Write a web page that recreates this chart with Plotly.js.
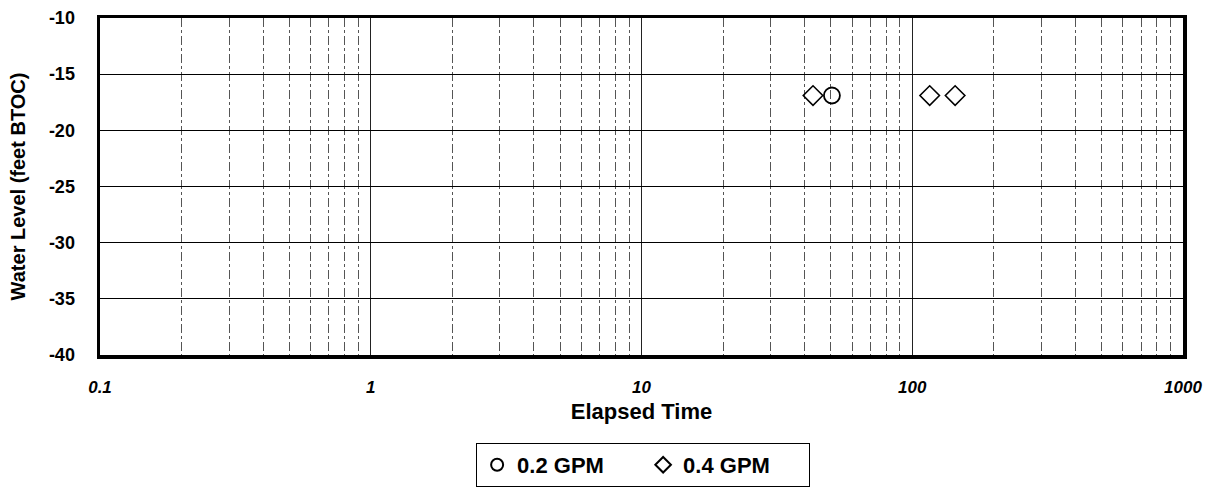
<!DOCTYPE html>
<html><head><meta charset="utf-8">
<script src="https://cdn.plot.ly/plotly-3.0.1.min.js"></script>
<style>html,body{margin:0;padding:0;background:#fff}#c{width:1211px;height:494px}</style>
</head><body><div id="c"></div>
<script>
const seriesNames = ["0.2 GPM", "0.4 GPM"];
const time02 = [50.5];
const level02 = [-16.9];
const time04 = [43, 116, 144];
const level04 = [-16.9, -16.9, -16.9];
const xTickVals = [0.1, 1, 10, 100, 1000];
const xTickText = ["0.1", "1", "10", "100", "1000"];
const yTickVals = [-10, -15, -20, -25, -30, -35, -40];
const yTickText = ["-10", "-15", "-20", "-25", "-30", "-35", "-40"];

const F = "Liberation Sans, Arial, sans-serif";
const traces = [
  {x: time02, y: level02, name: seriesNames[0], type: "scatter", mode: "markers",
   marker: {symbol: "circle-open", size: 16, color: "#000", line: {width: 1.8, color: "#000"}}},
  {x: time04, y: level04, name: seriesNames[1], type: "scatter", mode: "markers",
   marker: {symbol: "diamond-open", size: 15, color: "#000", line: {width: 1.6, color: "#000"}}}
];
const layout = {
  width: 1211, height: 494,
  margin: {l: 100, r: 28, t: 18, b: 139, autoexpand: false},
  paper_bgcolor: "#fff", plot_bgcolor: "#fff",
  font: {family: F, color: "#000", size: 14},
  showlegend: true,
  legend: {orientation: "h", x: 0.5015, xanchor: "center", y: -0.261, yanchor: "top",
    bordercolor: "#000", borderwidth: 1, font: {family: F, size: 22, weight: "bold"},
    traceorder: "normal", entrywidth: 121, entrywidthmode: "pixels", itemwidth: 30,
    itemsizing: "constant"},
  xaxis: {type: "log", range: [-1, 3], tickvals: xTickVals, ticktext: xTickText,
    showgrid: true, gridcolor: "#222", gridwidth: 1,
    minor: {dtick: "D1", showgrid: true, gridcolor: "#555", griddash: "dashdot", gridwidth: 1},
    showline: true, mirror: true, linecolor: "#000", linewidth: 3.5,
    ticks: "", ticklabelstandoff: 14, automargin: false,
    tickfont: {family: F, size: 17, weight: "bold", style: "italic"},
    title: {text: "Elapsed Time", font: {family: F, size: 22, weight: "bold"}, standoff: 8},
    zeroline: false},
  yaxis: {range: [-40, -10], tickvals: yTickVals, ticktext: yTickText,
    showgrid: true, gridcolor: "#000", gridwidth: 1,
    showline: true, mirror: true, linecolor: "#000", linewidth: 3.5,
    ticks: "", ticklabelstandoff: 18, automargin: false,
    tickfont: {family: F, size: 18, weight: "bold"},
    title: {text: "Water Level (feet BTOC)", font: {family: F, size: 20, weight: "bold"}, standoff: 19},
    zeroline: false}
};
Plotly.newPlot("c", traces, layout, {displayModeBar: false, staticPlot: true});
</script></body></html>
